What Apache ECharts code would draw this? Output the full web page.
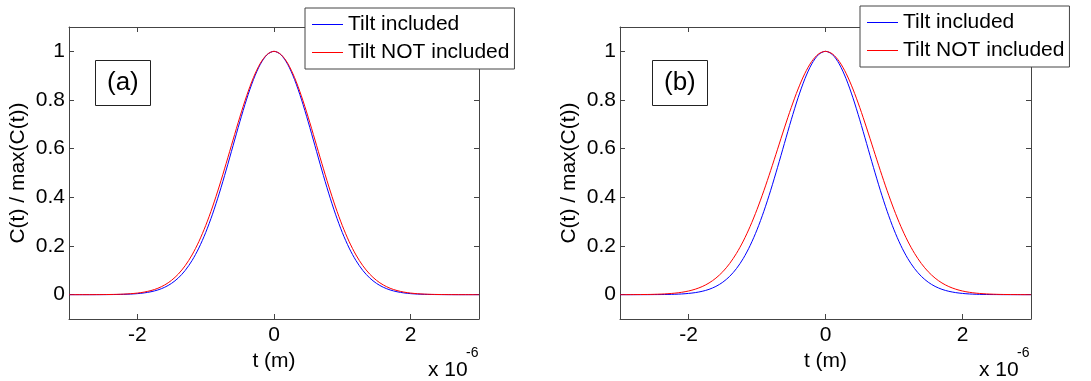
<!DOCTYPE html>
<html>
<head>
<meta charset="utf-8">
<script src="https://cdn.jsdelivr.net/npm/echarts@6/dist/echarts.min.js"></script>
<style>
html,body{margin:0;padding:0;background:#fff;}
#main{width:1091px;height:381px;}
</style>
</head>
<body>
<div id="main"></div>
<script>
// t in units of 1e-6 m
const tValues = [-3,-2.9,-2.8,-2.7,-2.6,-2.5,-2.4,-2.3,-2.2,-2.1,-2,-1.9,-1.8,-1.7,-1.6,-1.5,-1.4,-1.3,-1.2,-1.1,-1,-0.9,-0.8,-0.7,-0.6,-0.5,-0.4,-0.3,-0.2,-0.1,0,0.1,0.2,0.3,0.4,0.5,0.6,0.7,0.8,0.9,1,1.1,1.2,1.3,1.4,1.5,1.6,1.7,1.8,1.9,2,2.1,2.2,2.3,2.4,2.5,2.6,2.7,2.8,2.9,3];

// panel (a)
const tiltIncludedA = [0,0,0,0,0.0001,0.0002,0.0004,0.0007,0.0013,0.0024,0.0042,0.0072,0.0120,0.0193,0.0303,0.0463,0.0688,0.0994,0.1399,0.1915,0.2551,0.3307,0.4172,0.5120,0.6116,0.7107,0.8037,0.8843,0.9468,0.9864,1,0.9864,0.9468,0.8843,0.8037,0.7107,0.6116,0.5120,0.4172,0.3307,0.2551,0.1915,0.1399,0.0994,0.0688,0.0463,0.0303,0.0193,0.0120,0.0072,0.0042,0.0024,0.0013,0.0007,0.0004,0.0002,0.0001,0,0,0,0];
const tiltNotIncludedA = [0,0,0.0001,0.0001,0.0002,0.0004,0.0007,0.0013,0.0023,0.0039,0.0065,0.0106,0.0169,0.0262,0.0398,0.0588,0.0847,0.1190,0.1630,0.2178,0.2837,0.3604,0.4465,0.5394,0.6354,0.7298,0.8175,0.8928,0.9509,0.9875,1,0.9875,0.9509,0.8928,0.8175,0.7298,0.6354,0.5394,0.4465,0.3604,0.2837,0.2178,0.1630,0.1190,0.0847,0.0588,0.0398,0.0262,0.0169,0.0106,0.0065,0.0039,0.0023,0.0013,0.0007,0.0004,0.0002,0.0001,0.0001,0,0];

// panel (b)
const tiltIncludedB = [0,0,0,0.0001,0.0001,0.0003,0.0005,0.0009,0.0017,0.0029,0.0051,0.0085,0.0138,0.0219,0.0339,0.0511,0.0750,0.1071,0.1490,0.2020,0.2666,0.3427,0.4291,0.5232,0.6213,0.7186,0.8094,0.8878,0.9485,0.9869,1,0.9869,0.9485,0.8878,0.8094,0.7186,0.6213,0.5232,0.4291,0.3427,0.2666,0.2020,0.1490,0.1071,0.0750,0.0511,0.0339,0.0219,0.0138,0.0085,0.0051,0.0029,0.0017,0.0009,0.0005,0.0003,0.0001,0.0001,0,0,0];
const tiltNotIncludedB = [0.0001,0.0001,0.0003,0.0005,0.0008,0.0014,0.0024,0.0039,0.0062,0.0097,0.0150,0.0226,0.0333,0.0481,0.0680,0.0941,0.1277,0.1695,0.2204,0.2806,0.3499,0.4271,0.5106,0.5977,0.6852,0.7691,0.8453,0.9098,0.9589,0.9896,1,0.9896,0.9589,0.9098,0.8453,0.7691,0.6852,0.5977,0.5106,0.4271,0.3499,0.2806,0.2204,0.1695,0.1277,0.0941,0.0680,0.0481,0.0333,0.0226,0.0150,0.0097,0.0062,0.0039,0.0024,0.0014,0.0008,0.0005,0.0003,0.0001,0.0001];

const xTicks = [-2, 0, 2];
const yTicks = [0, 0.2, 0.4, 0.6, 0.8, 1];
const seriesNames = ['Tilt included', 'Tilt NOT included'];
const panelLabels = ['(a)', '(b)'];
const xName = 't (m)';
const yName = 'C(t) / max(C(t))';

const FONT = '"Liberation Sans", Arial, sans-serif';
const AX = '#444';

const zip = (xs, ys) => xs.map((x, i) => [x, ys[i]]);

const grids = [
  {left: 69, top: 27, width: 410, height: 292},
  {left: 620, top: 27, width: 411, height: 292}
];

const xAxes = [], yAxes = [], series = [];
grids.forEach((g, gi) => {
  xAxes.push({
    type: 'value', gridIndex: gi, min: -3, max: 3, position: 'bottom',
    name: xName, nameLocation: 'middle', nameGap: 27,
    nameTextStyle: {fontFamily: FONT, fontSize: 21, color: '#000'},
    axisLine: {show: true, onZero: false, lineStyle: {color: AX, width: 1}},
    axisTick: {show: true, inside: true, length: 5, customValues: xTicks, lineStyle: {color: AX}},
    axisLabel: {show: true, customValues: xTicks, margin: 6, fontFamily: FONT, fontSize: 21, color: '#000'},
    splitLine: {show: false}
  });
  xAxes.push({
    type: 'value', gridIndex: gi, min: -3, max: 3, position: 'top',
    axisLine: {show: true, onZero: false, lineStyle: {color: AX, width: 1}},
    axisTick: {show: true, inside: true, length: 5, customValues: xTicks, lineStyle: {color: AX}},
    axisLabel: {show: false}, splitLine: {show: false}
  });
  yAxes.push({
    type: 'value', gridIndex: gi, min: -0.1, max: 1.1, position: 'left',
    name: yName, nameLocation: 'middle', nameGap: 40,
    nameTextStyle: {fontFamily: FONT, fontSize: 21, color: '#000'},
    axisLine: {show: true, onZero: false, lineStyle: {color: AX, width: 1}},
    axisTick: {show: true, inside: true, length: 5, customValues: yTicks, lineStyle: {color: AX}},
    axisLabel: {show: true, customValues: yTicks, margin: 4, fontFamily: FONT, fontSize: 21, color: '#000'},
    splitLine: {show: false}
  });
  yAxes.push({
    type: 'value', gridIndex: gi, min: -0.1, max: 1.1, position: 'right',
    axisLine: {show: true, onZero: false, lineStyle: {color: AX, width: 1}},
    axisTick: {show: true, inside: true, length: 5, customValues: yTicks, lineStyle: {color: AX}},
    axisLabel: {show: false}, splitLine: {show: false}
  });
});

const panelData = [[tiltIncludedA, tiltNotIncludedA], [tiltIncludedB, tiltNotIncludedB]];
const colors = ['#0000ff', '#ff0000'];
panelData.forEach((pair, gi) => {
  pair.forEach((vals, si) => {
    series.push({
      type: 'line', name: seriesNames[si], xAxisIndex: gi * 2, yAxisIndex: gi * 2,
      data: zip(tValues, vals), showSymbol: false, symbol: 'none', smooth: 0.3,
      lineStyle: {color: colors[si], width: 1}, itemStyle: {color: colors[si]},
      z: 2 + si, animation: false
    });
  });
});

const legendCommon = {
  orient: 'vertical', itemWidth: 31, itemHeight: 1, itemGap: 7,
  icon: 'rect',
  padding: [6, 5, 6, 7], borderColor: AX, borderWidth: 1, backgroundColor: '#fff',
  textStyle: {fontFamily: FONT, fontSize: 21, color: '#000', lineHeight: 21},
  data: seriesNames, selectedMode: false
};

const option = {
  backgroundColor: '#fff',
  animation: false,
  grid: grids.map(g => Object.assign({outerBoundsMode: 'none'}, g)),
  xAxis: xAxes,
  yAxis: yAxes,
  series: series,
  legend: [
    Object.assign({left: 305, top: 8, z: 10}, legendCommon),
    Object.assign({left: 860, top: 6, z: 10}, legendCommon)
  ],
  title: [
    {text: panelLabels[0], left: 95, top: 60, borderColor: '#222', borderWidth: 1, padding: [9, 12, 9, 12],
     textStyle: {fontFamily: FONT, fontSize: 26, fontWeight: 'normal', color: '#000', lineHeight: 28}},
    {text: panelLabels[1], left: 652, top: 60, borderColor: '#222', borderWidth: 1, padding: [9, 12, 9, 12],
     textStyle: {fontFamily: FONT, fontSize: 26, fontWeight: 'normal', color: '#000', lineHeight: 28}}
  ],
  graphic: [
    {type: 'text', left: 428, top: 360, style: {text: 'x 10', font: '21px ' + FONT, fill: '#000'}},
    {type: 'text', left: 466, top: 346, style: {text: '-6', font: '14px ' + FONT, fill: '#000'}},
    {type: 'text', left: 979, top: 360, style: {text: 'x 10', font: '21px ' + FONT, fill: '#000'}},
    {type: 'text', left: 1017, top: 346, style: {text: '-6', font: '14px ' + FONT, fill: '#000'}}
  ]
};

const chart = echarts.init(document.getElementById('main'), null, {renderer: 'canvas'});
chart.setOption(option);
</script>
</body>
</html>
